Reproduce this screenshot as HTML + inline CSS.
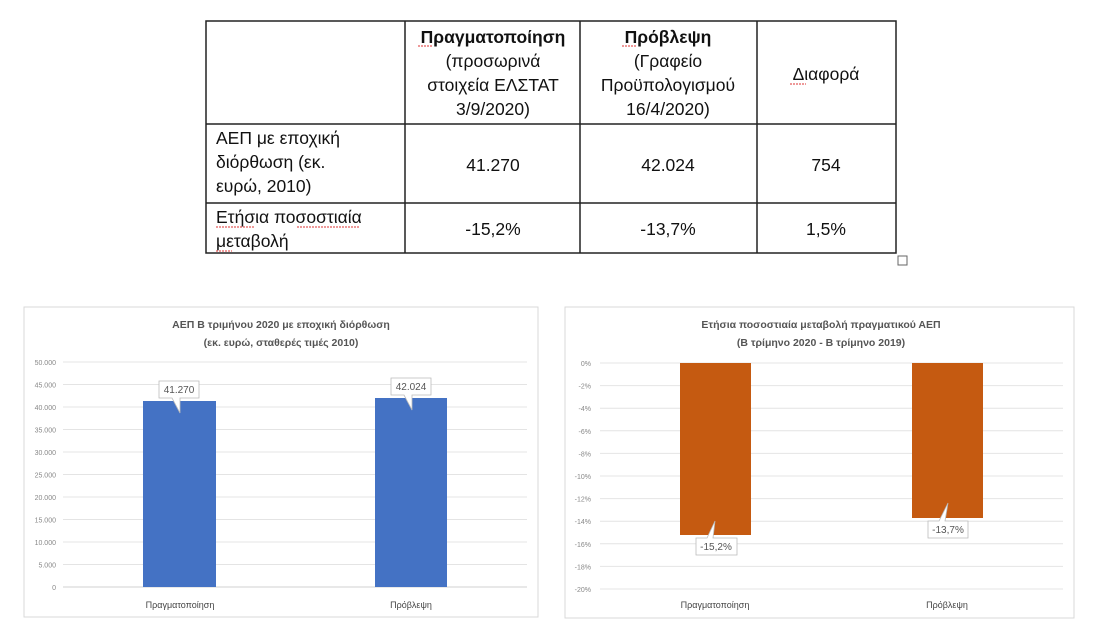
<!DOCTYPE html>
<html><head><meta charset="utf-8"><style>
body{margin:0;background:#fff;width:1099px;height:642px;overflow:hidden;font-family:"Liberation Sans","DejaVu Sans",sans-serif}
svg{position:absolute;left:0;top:0}
</style></head><body>
<svg width="1099" height="642" viewBox="0 0 1099 642" xmlns="http://www.w3.org/2000/svg" font-family="Liberation Sans, DejaVu Sans, sans-serif">
<g stroke="#222" stroke-width="1.5" fill="none">
<rect x="206" y="21" width="690" height="232"/>
<line x1="206" y1="124" x2="896" y2="124"/>
<line x1="206" y1="203" x2="896" y2="203"/>
<line x1="405" y1="21" x2="405" y2="253"/>
<line x1="580" y1="21" x2="580" y2="253"/>
<line x1="757" y1="21" x2="757" y2="253"/>
</g>
<rect x="898" y="256" width="9" height="9" fill="none" stroke="#666" stroke-width="1"/>
<g font-size="17.5" fill="#111" text-anchor="middle">
<text x="493" y="43" font-weight="bold">Πραγματοποίηση</text>
<text x="493" y="67">(προσωρινά</text>
<text x="493" y="91">στοιχεία ΕΛΣΤΑΤ</text>
<text x="493" y="115">3/9/2020)</text>
<text x="668" y="43" font-weight="bold">Πρόβλεψη</text>
<text x="668" y="67">(Γραφείο</text>
<text x="668" y="91">Προϋπολογισμού</text>
<text x="668" y="115">16/4/2020)</text>
<text x="826" y="80">Διαφορά</text>
<text x="493" y="171">41.270</text>
<text x="668" y="171">42.024</text>
<text x="826" y="171">754</text>
<text x="493" y="235">-15,2%</text>
<text x="668" y="235">-13,7%</text>
<text x="826" y="235">1,5%</text>
</g>
<g font-size="17.5" fill="#111">
<text x="216" y="144">ΑΕΠ με εποχική</text>
<text x="216" y="168">διόρθωση (εκ.</text>
<text x="216" y="192">ευρώ, 2010)</text>
<text x="216" y="223">Ετήσια ποσοστιαία</text>
<text x="216" y="247">μεταβολή</text>
</g>
<g stroke="#d33" stroke-width="1" fill="none" stroke-dasharray="2,1">
<line x1="418" y1="46" x2="432" y2="46"/><line x1="622" y1="46" x2="636" y2="46"/>
<line x1="790" y1="84" x2="806" y2="84"/><line x1="216" y1="227" x2="254" y2="227"/>
<line x1="297" y1="227" x2="360" y2="227"/><line x1="216" y1="251" x2="232" y2="251"/>
</g>

<rect x="24" y="307" width="514" height="310" fill="#fff" stroke="#d9d9d9"/>
<g font-size="10.5" font-weight="bold" fill="#555" text-anchor="middle">
<text x="281" y="328">ΑΕΠ Β τριμήνου 2020 με εποχική διόρθωση</text>
<text x="281" y="346">(εκ. ευρώ, σταθερές τιμές 2010)</text>
</g>
<g stroke="#e4e4e4" stroke-width="1">
<line x1="63" x2="527" y1="362" y2="362"/><line x1="63" x2="527" y1="384.5" y2="384.5"/>
<line x1="63" x2="527" y1="407" y2="407"/><line x1="63" x2="527" y1="429.5" y2="429.5"/>
<line x1="63" x2="527" y1="452" y2="452"/><line x1="63" x2="527" y1="474.5" y2="474.5"/>
<line x1="63" x2="527" y1="497" y2="497"/><line x1="63" x2="527" y1="519.5" y2="519.5"/>
<line x1="63" x2="527" y1="542" y2="542"/><line x1="63" x2="527" y1="564.5" y2="564.5"/>
<line x1="63" x2="527" y1="587" y2="587" stroke="#d0d0d0"/>
</g>
<g font-size="7" fill="#888" text-anchor="end">
<text x="56" y="365">50.000</text><text x="56" y="387.5">45.000</text><text x="56" y="410">40.000</text>
<text x="56" y="432.5">35.000</text><text x="56" y="455">30.000</text><text x="56" y="477.5">25.000</text>
<text x="56" y="500">20.000</text><text x="56" y="522.5">15.000</text><text x="56" y="545">10.000</text>
<text x="56" y="567.5">5.000</text><text x="56" y="590">0</text>
</g>
<rect x="143" y="401" width="73" height="186" fill="#4472c4"/>
<rect x="375" y="398" width="72" height="189" fill="#4472c4"/>
<g fill="#fff" stroke="#bbb" stroke-width="0.8">
<path d="M159,381 H199 V398 H180 L180,413 L172,398 H159 Z"/>
<path d="M391,378 H431 V395 H412 L412,410 L404,395 H391 Z"/>
</g>
<g font-size="10" fill="#555" text-anchor="middle">
<text x="179" y="393">41.270</text><text x="411" y="390">42.024</text>
</g>
<g font-size="9" fill="#444" text-anchor="middle">
<text x="180" y="608">Πραγματοποίηση</text><text x="411" y="608">Πρόβλεψη</text>
</g>

<rect x="565" y="307" width="509" height="311" fill="#fff" stroke="#d9d9d9"/>
<g font-size="10.5" font-weight="bold" fill="#555" text-anchor="middle">
<text x="821" y="328">Ετήσια ποσοστιαία μεταβολή πραγματικού ΑΕΠ</text>
<text x="821" y="346">(Β τρίμηνο 2020 - Β τρίμηνο 2019)</text>
</g>
<g stroke="#e4e4e4" stroke-width="1">
<line x1="600" x2="1063" y1="363" y2="363"/><line x1="600" x2="1063" y1="385.6" y2="385.6"/>
<line x1="600" x2="1063" y1="408.2" y2="408.2"/><line x1="600" x2="1063" y1="430.8" y2="430.8"/>
<line x1="600" x2="1063" y1="453.4" y2="453.4"/><line x1="600" x2="1063" y1="476" y2="476"/>
<line x1="600" x2="1063" y1="498.6" y2="498.6"/><line x1="600" x2="1063" y1="521.2" y2="521.2"/>
<line x1="600" x2="1063" y1="543.8" y2="543.8"/><line x1="600" x2="1063" y1="566.4" y2="566.4"/>
<line x1="600" x2="1063" y1="589" y2="589"/>
</g>
<g font-size="7" fill="#888" text-anchor="end">
<text x="591" y="366">0%</text><text x="591" y="388.6">-2%</text><text x="591" y="411.2">-4%</text>
<text x="591" y="433.8">-6%</text><text x="591" y="456.4">-8%</text><text x="591" y="479">-10%</text>
<text x="591" y="501.6">-12%</text><text x="591" y="524.2">-14%</text><text x="591" y="546.8">-16%</text>
<text x="591" y="569.4">-18%</text><text x="591" y="592">-20%</text>
</g>
<rect x="680" y="363" width="71" height="172" fill="#c55a11"/>
<rect x="912" y="363" width="71" height="155" fill="#c55a11"/>
<g fill="#fff" stroke="#bbb" stroke-width="0.8">
<path d="M696,538 H707 L715,521 L713,538 H737 V555 H696 Z"/>
<path d="M928,521 H939 L948,503 L945,521 H968 V538 H928 Z"/>
</g>
<g font-size="10" fill="#555" text-anchor="middle">
<text x="716" y="550">-15,2%</text><text x="948" y="533">-13,7%</text>
</g>
<g font-size="9" fill="#444" text-anchor="middle">
<text x="715" y="608">Πραγματοποίηση</text><text x="947" y="608">Πρόβλεψη</text>
</g>
</svg>
</body></html>
